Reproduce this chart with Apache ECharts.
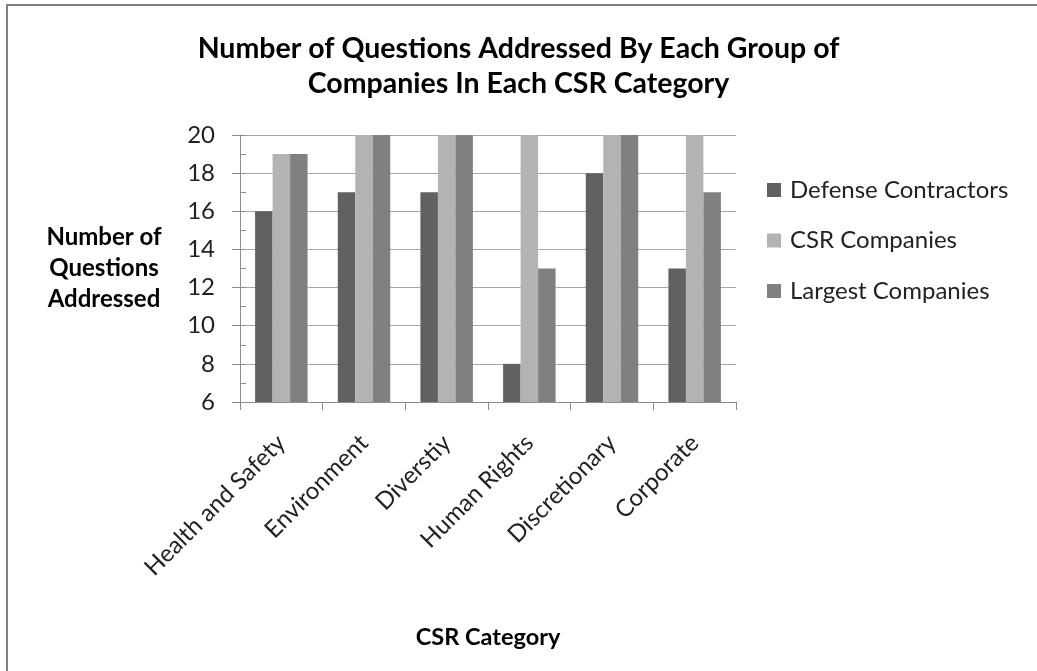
<!DOCTYPE html>
<html>
<head>
<meta charset="utf-8">
<script src="https://cdn.jsdelivr.net/npm/echarts@6/dist/echarts.min.js"></script>
<style>
  html, body { margin: 0; padding: 0; background: #fff; }
  #chart { width: 1037px; height: 671px; }
</style>
</head>
<body>
<div id="chart"></div>
<script>
// CSR categories along the x axis
const categories = ['Health and Safety', 'Environment', 'Diverstiy', 'Human Rights', 'Discretionary', 'Corporate'];

// Questions addressed per group of companies
const defenseContractors = [16, 17, 17, 8, 18, 13];
const csrCompanies       = [19, 20, 20, 20, 20, 20];
const largestCompanies   = [19, 20, 20, 13, 20, 17];

const seriesNames = ['Defense Contractors', 'CSR Companies', 'Largest Companies'];
const seriesColors = ['#616161', '#b3b3b3', '#808080'];

const FONT = 'Lato, "Open Sans", sans-serif';
const chart = echarts.init(document.getElementById('chart'), null, { renderer: 'canvas' });

const makeBar = (name, data, color) => ({
  name: name,
  type: 'bar',
  data: data,
  barGap: '0%',
  barCategoryGap: '36.5%',
  itemStyle: { color: color },
  emphasis: { disabled: true }
});

chart.setOption({
  animation: false,
  backgroundColor: '#ffffff',
  textStyle: { fontFamily: FONT },
  title: {
    text: 'Number of Questions Addressed By Each Group of\nCompanies In Each CSR Category',
    left: 'center',
    top: 26,
    textStyle: { fontFamily: FONT, fontSize: 28.5, fontWeight: 'bold', color: '#000', lineHeight: 35 }
  },
  legend: {
    orient: 'vertical',
    left: 762,
    top: 173,
    itemWidth: 14,
    itemHeight: 14,
    itemGap: 26.5,
    icon: 'rect',
    textStyle: { fontFamily: FONT, fontSize: 24, color: '#222', padding: [0, 0, 0, 4] },
    data: seriesNames
  },
  grid: { left: 240, top: 135, right: 301, bottom: 269, containLabel: false },
  xAxis: {
    type: 'category',
    data: categories,
    name: 'CSR Category',
    nameLocation: 'middle',
    nameGap: 223,
    nameTextStyle: { fontFamily: FONT, fontSize: 23.5, fontWeight: 'bold', color: '#000' },
    axisLine: { lineStyle: { color: '#8c8c8c', width: 1 } },
    axisTick: { show: true, length: 8, lineStyle: { color: '#8c8c8c' } },
    axisLabel: { rotate: 45, margin: 37, fontFamily: FONT, fontSize: 24, color: '#222', interval: 0 },
    splitLine: { show: false }
  },
  yAxis: [
    {
      type: 'value',
      min: 6,
      max: 20,
      interval: 2,
      name: 'Number of\nQuestions\nAddressed',
      nameLocation: 'middle',
      nameRotate: 0,
      nameGap: 136,
      nameTextStyle: { fontFamily: FONT, fontSize: 24, fontWeight: 'bold', color: '#000', lineHeight: 31, align: 'center', verticalAlign: 'middle' },
      axisLine: { show: true, lineStyle: { color: '#8c8c8c', width: 1 } },
      axisTick: { show: true, length: 8, lineStyle: { color: '#8c8c8c' } },
      axisLabel: { margin: 25, fontFamily: FONT, fontSize: 24, color: '#222' },
      splitLine: { show: true, lineStyle: { color: '#a6a6a6', width: 1 } }
    },
    {
      // minor ticks drawn inside the plot at every unit
      type: 'value',
      min: 6,
      max: 20,
      interval: 1,
      position: 'left',
      axisLine: { show: false },
      axisTick: { show: true, inside: true, length: 6, lineStyle: { color: '#8c8c8c' } },
      axisLabel: { show: false },
      splitLine: { show: false }
    }
  ],
  series: [
    makeBar(seriesNames[0], defenseContractors, seriesColors[0]),
    makeBar(seriesNames[1], csrCompanies, seriesColors[1]),
    makeBar(seriesNames[2], largestCompanies, seriesColors[2])
  ],
  graphic: [
    { type: 'line', shape: { x1: 7, y1: 5, x2: 7, y2: 671 }, style: { stroke: '#808080', lineWidth: 2 }, silent: true },
    { type: 'line', shape: { x1: 6, y1: 5, x2: 1037, y2: 5 }, style: { stroke: '#808080', lineWidth: 2 }, silent: true }
  ]
});
</script>
</body>
</html>
